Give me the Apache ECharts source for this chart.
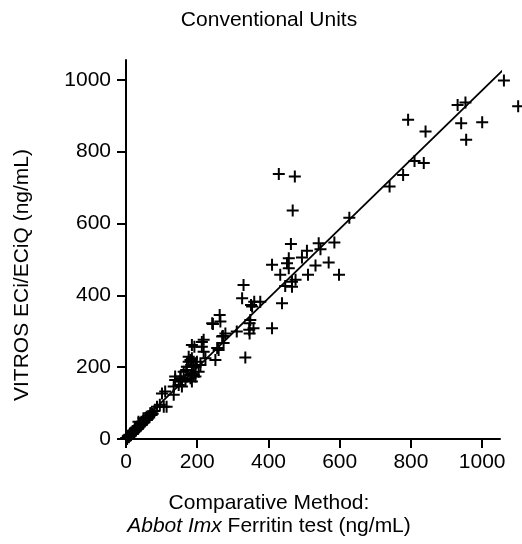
<!DOCTYPE html>
<html>
<head>
<meta charset="utf-8">
<script src="https://cdn.jsdelivr.net/npm/echarts@6/dist/echarts.min.js"></script>
<style>html,body{margin:0;padding:0;background:#fff}#c{width:522px;height:544px}</style>
</head>
<body>
<div id="c"></div>
<script>
var titleText = 'Conventional Units';
var yName = 'VITROS ECi/ECiQ (ng/mL)';
var xNameLine1 = 'Comparative Method:';
var xNameItalic = 'Abbot Imx';
var xNameRest = ' Ferritin test (ng/mL)';
var tickValues = [0, 200, 400, 600, 800, 1000];

var points = [
  [1061,998],[1101,926],[931,930],[953,937],[941,879],[1000,882],[955,833],[792,889],[841,856],
  [810,774],[836,768],[778,735],[740,703],
  [429,738],[474,731],[468,636],[627,616],[463,543],[541,545],[585,547],[508,524],[546,528],
  [494,505],[457,503],[410,485],[452,489],[532,483],[569,491],[457,475],[433,457],[511,457],
  [598,457],[476,443],[466,438],[447,426],[466,424],[438,378],[410,308],
  [330,429],[326,392],[360,382],[377,382],[354,369],[351,373],[349,331],[358,308],[346,304],
  [347,322],[347,294],[335,227],[311,299],[279,294],[270,285],[265,327],[244,320],[263,345],
  [242,322],[272,287],[274,267],[256,253],[260,248],[251,220],[218,276],[213,270],[213,257],
  [192,257],[185,262],[218,243],[223,225],[181,220],[185,225],[199,215],[176,215],[176,229],
  [190,206],[171,201],[195,201],[209,206],[204,187],[162,187],[169,192],[185,183],[181,178],
  [190,178],[195,174],[181,169],[153,174],[153,169],[138,174],[138,164],[167,164],[157,160],
  [185,160],[148,150],[134,146],[157,146],[110,132],[101,127],[134,123],[106,90],[87,90],
  [114,90],[95,95],[68,72],[72,67],[49,58],[58,53],[35,48],[44,44],[30,30],[16,16],[6,6],
  [2,3],[5,8],[8,5],[10,12],[12,9],[15,18],[18,14],[20,22],[22,19],[25,28],[28,24],[32,35],
  [35,31],[38,40],[40,37],[42,46],[45,41],[50,52],[52,48],[55,58],[60,57],[62,63],[65,60],
  [70,72],[75,70],[80,78],[3,0],[0,2],[7,10],[14,11],[24,20],[26,30],[33,28],[48,45],[58,62]
];

var fitLine = [[0, 6], [1108, 1075]];

var FONT = '"Liberation Sans", Arial, Helvetica, sans-serif';
var plusPath = 'path://M5,0 H7 V5 H12 V7 H7 V12 H5 V7 H0 V5 H5 Z';
function plainLabel(v) { return String(v); }

var chart = echarts.init(document.getElementById('c'), null, {renderer: 'canvas'});
chart.setOption({
  animation: false,
  backgroundColor: '#fff',
  grid: {left: 126, top: 60, right: 22, bottom: 105, containLabel: false},
  xAxis: {
    type: 'value', min: 0, max: 1050,
    splitLine: {show: false},
    axisLine: {show: true, lineStyle: {color: '#000', width: 2}},
    axisTick: {show: true, length: 9, lineStyle: {color: '#000', width: 2}, customValues: tickValues},
    axisLabel: {color: '#000', fontSize: 21, fontFamily: FONT, margin: 13, customValues: tickValues, formatter: plainLabel}
  },
  yAxis: {
    type: 'value', min: 0, max: 1055,
    splitLine: {show: false},
    axisLine: {show: true, lineStyle: {color: '#000', width: 2}},
    axisTick: {show: true, length: 9, lineStyle: {color: '#000', width: 2}, customValues: tickValues},
    axisLabel: {color: '#000', fontSize: 21, fontFamily: FONT, margin: 15, customValues: tickValues, formatter: plainLabel}
  },
  graphic: [
    {type: 'text', x: 269, y: 20, style: {text: titleText, font: '21px ' + FONT, fill: '#000', textAlign: 'center', textVerticalAlign: 'middle'}},
    {type: 'text', x: 22, y: 275, rotation: Math.PI / 2, style: {text: yName, font: '21px ' + FONT, fill: '#000', textAlign: 'center', textVerticalAlign: 'middle'}},
    {type: 'text', x: 269, y: 503, style: {text: xNameLine1, font: '21px ' + FONT, fill: '#000', textAlign: 'center', textVerticalAlign: 'middle'}},
    {type: 'text', x: 269, y: 526, style: {
      text: '{i|' + xNameItalic + '}{n|' + xNameRest + '}',
      textAlign: 'center', textVerticalAlign: 'middle',
      rich: {
        i: {fontStyle: 'italic', fontSize: 21, fontFamily: FONT, fill: '#000', color: '#000'},
        n: {fontSize: 21, fontFamily: FONT, fill: '#000', color: '#000'}
      }
    }}
  ],
  series: [
    {
      type: 'line', data: fitLine, clip: false, symbol: 'none', silent: true,
      lineStyle: {color: '#000', width: 1.8}, z: 3
    },
    {
      type: 'scatter', data: points, clip: false, symbol: plusPath, symbolSize: 12,
      itemStyle: {color: '#000', opacity: 1}, z: 4
    }
  ]
});
</script>
</body>
</html>
